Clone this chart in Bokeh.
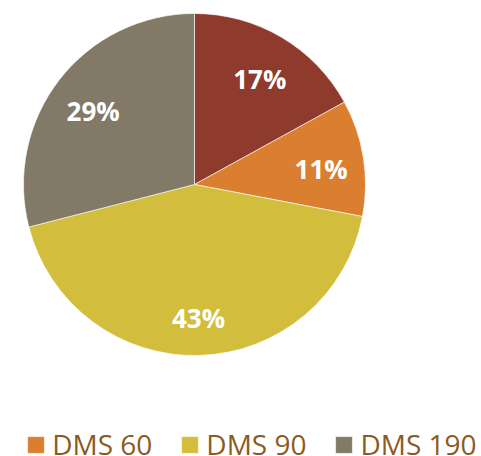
import numpy as np
from bokeh.plotting import figure
from bokeh.models import Range1d, ColumnDataSource, Legend, LegendItem
from bokeh.embed import file_html
from bokeh.resources import INLINE
from bokeh.core.properties import value

categories = ["DMS 30", "DMS 60", "DMS 90", "DMS 190"]
shares = [17, 11, 43, 29]
labels = ["17%", "11%", "43%", "29%"]
colors = ["#8e3a2c", "#da7f30", "#d2bd3c", "#827a66"]

W, H = 481, 456
p = figure(width=W, height=H, output_backend="svg", toolbar_location=None,
           x_range=Range1d(0, W), y_range=Range1d(0, H), min_border=0)
p.axis.visible = False
p.grid.visible = False
p.outline_line_color = None
p.background_fill_color = "white"
p.border_fill_color = "white"

cx, cy, R = 194, 272, 171
fr = np.array(shares, dtype=float) / sum(shares)
ends = np.pi / 2 - 2 * np.pi * np.cumsum(fr)
starts = np.concatenate([[np.pi / 2], ends[:-1]])
mids = (starts + ends) / 2
lr = 0.75 * R

src = ColumnDataSource(dict(
    x=[cx] * 4, y=[cy] * 4, start=starts, end=ends, color=colors,
    cat=categories, lab=labels,
    lx=cx + lr * np.cos(mids), ly=cy + lr * np.sin(mids),
))

r = p.wedge(x="x", y="y", radius=R, start_angle="end", end_angle="start",
            fill_color="color", line_color="white", line_width=1, line_alpha=0.6,
            source=src)

p.text(x="lx", y="ly", text="lab", source=src, text_color="white",
       text_font=value("Open Sans"), text_font_style="bold",
       text_font_size="26px", text_align="center", text_baseline="middle",
       y_offset=5)

items = [LegendItem(label=c, renderers=[r], index=i) for i, c in enumerate(categories)]
legend = Legend(items=items, orientation="horizontal", location=(-129, -7),
                glyph_width=21, glyph_height=21, label_standoff=6, spacing=27,
                padding=0, margin=0, border_line_color=None,
                background_fill_alpha=0, label_text_font="Open Sans",
                label_text_font_size="28px", label_text_color="#8B5B1E")
p.add_layout(legend, "center")

open("out.html", "w").write(file_html(p, INLINE))
